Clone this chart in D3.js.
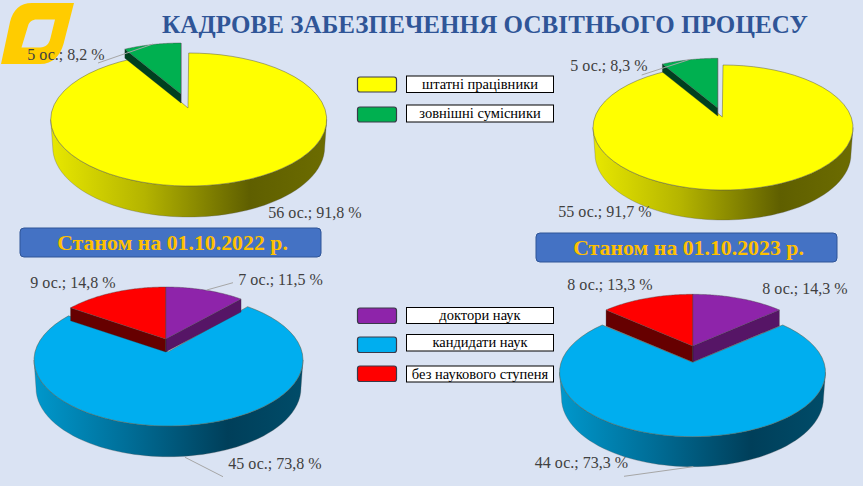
<!DOCTYPE html>
<html lang="uk"><head><meta charset="utf-8">
<script src="https://cdn.jsdelivr.net/npm/d3@7/dist/d3.min.js"></script>
<style>html,body{margin:0;padding:0;background:#DAE3F3;overflow:hidden}svg{display:block}text{font-family:"Liberation Serif",serif}</style>
</head><body><svg id="c" width="863" height="486"></svg>
<script>
// ---- data ----
const titleText = "КАДРОВЕ ЗАБЕЗПЕЧЕННЯ ОСВІТНЬОГО ПРОЦЕСУ";
const staffCategories = ["штатні працівники", "зовнішні сумісники"];
const degreeCategories = ["доктори наук", "кандидати наук", "без наукового ступеня"];
const staff2022 = [56, 5];
const staff2023 = [55, 5];
const degree2022 = [7, 45, 9];
const degree2023 = [8, 44, 8];
const staffLabels2022 = ["56 ос.; 91,8 %", "5 ос.; 8,2 %"];
const staffLabels2023 = ["55 ос.; 91,7 %", "5 ос.; 8,3 %"];
const degreeLabels2022 = ["7 ос.; 11,5 %", "45 ос.; 73,8 %", "9 ос.; 14,8 %"];
const degreeLabels2023 = ["8 ос.; 14,3 %", "44 ос.; 73,3 %", "8 ос.; 13,3 %"];
const banner2022 = "Станом на 01.10.2022 р.";
const banner2023 = "Станом на 01.10.2023 р.";

// ---- style and layout ----
const staffColors = ["#FFFF00", "#00B050"];
const degreeColors = ["#8E24AA", "#00AEEF", "#FF0000"];
const staffEdge = ["#666600", "#00401F"];
const degreeEdge = ["#561566", "#004A66", "#660000"];
const wallStops = {
  "#FFFF00": ["#E8E800", "#B4B400", "#5F5F00", "#6C6C00"],
  "#00AEEF": ["#0098CC", "#006F99", "#003F5A", "#004C69"]
};
const warp = 5.3 * Math.PI / 180; // foreshortening of the tilted pie

const charts = [
  { values: staff2022, colors: staffColors, edges: staffEdge, main: 0,
    top: {cx:188.7, cy:119.5, rx:138, ry:66.5, ax:188, ay:108},
    bottom: {cx:188.7, cy:147, rx:136, ry:70},
    loose: {cx:181, cy:109, rx:133, ry:66, ax:181, ay:94, depth:9},
    labels: staffLabels2022,
    labelPos: [[315,218],[66,60]],
    leaders: [[[98,63],[153,44]]] },
  { values: staff2023, colors: staffColors, edges: staffEdge, main: 0,
    top: {cx:723, cy:127.5, rx:130, ry:62.5, ax:722.3, ay:117},
    bottom: {cx:723, cy:154, rx:128, ry:66},
    loose: {cx:717.7, cy:118.3, rx:129, ry:60, ax:717.7, ay:108, depth:8},
    labels: staffLabels2023,
    labelPos: [[605,216.7],[609,71]],
    leaders: [[[641.7,75],[690,59.3]]] },
  { values: degree2022, colors: degreeColors, edges: degreeEdge, main: 1,
    top: {cx:168.5, cy:360, rx:134.5, ry:66, ax:168.3, ay:351.7},
    bottom: {cx:168.5, cy:388, rx:132.5, ry:68.7},
    loose: {cx:165.7, cy:350, rx:128, ry:63, ax:165.7, ay:339, depth:13},
    labels: degreeLabels2022,
    labelPos: [[280.5,285],[275,469.3],[73,287.7]],
    leaders: [[[233,282.7],[206.7,290]],[[223,476.7],[185,457.3]]] },
  { values: degree2023, colors: degreeColors, edges: degreeEdge, main: 1,
    top: {cx:692.5, cy:372.3, rx:133, ry:64.4, ax:692.7, ay:362.3},
    bottom: {cx:692.5, cy:398, rx:131, ry:68.7},
    loose: {cx:692.7, cy:353.3, rx:127.7, ry:59, ax:692.7, ay:346, depth:16},
    labels: degreeLabels2023,
    labelPos: [[805,294],[581.5,468],[610,290]],
    leaders: [[[624,476.3],[693.3,466.7]]] }
];
const banners = [
  {text: banner2022, x:20, y:228, w:301, h:29},
  {text: banner2023, x:536, y:233, w:301, h:29}
];
const legends = [
  {names: staffCategories, colors: staffColors, swatch:[[77,15],[107,15]], box:[[76,16.5],[105,17]]},
  {names: degreeCategories, colors: degreeColors, swatch:[[308,15.5],[337,15.5],[366,15.5]], box:[[307.5,16],[334.5,16.5],[366,16]]}
];

// ---- drawing ----
const svg = d3.select("#c");
const defs = svg.append("defs");
svg.append("rect").attr("width",863).attr("height",486).attr("fill","#DAE3F3");

// logo
const logoPath = d3.path();
logoPath.moveTo(1,64); logoPath.lineTo(10,22);
logoPath.bezierCurveTo(13,10,20,3,32,3);
logoPath.lineTo(74,3); logoPath.lineTo(63.5,44);
logoPath.bezierCurveTo(60,56,53,64,40,64);
logoPath.closePath();
logoPath.moveTo(21.5,47.5); logoPath.lineTo(40,47.5);
logoPath.bezierCurveTo(46,47.5,49,44,50.5,38);
logoPath.lineTo(55,19.5); logoPath.lineTo(37,19.5);
logoPath.bezierCurveTo(32,19.5,29,22,28,26);
logoPath.closePath();
svg.append("path").attr("d",logoPath.toString()).attr("fill","#FFCC00").attr("fill-rule","evenodd");

// title
svg.append("text").attr("x",485).attr("y",33).attr("text-anchor","middle")
  .attr("font-size",25).attr("font-weight","bold").attr("fill","#2F5597")
  .attr("letter-spacing",0.08).text(titleText);

const pieGen = d3.pie().sort(null).startAngle(0).endAngle(2*Math.PI);
const warped = a => a - warp*Math.sin(2*a);
const pt = (e,a) => [e.cx + e.rx*Math.sin(warped(a)), e.cy - e.ry*Math.cos(warped(a))];
const samples = (a0,a1) => d3.range(0,61).map(i => a0+(a1-a0)*i/60);
const poly = d3.line();

charts.forEach((ch,ci) => {
  const arcs = pieGen(ch.values);
  const g = svg.append("g");
  const mainArc = arcs[ch.main];
  const base = ch.colors[ch.main];

  // main slice side wall with gradient
  const gid = "wall"+ci;
  const grad = defs.append("linearGradient").attr("id",gid);
  grad.selectAll("stop").data(wallStops[base]).join("stop")
    .attr("offset",(d,i)=>[0,0.34,0.72,1][i]).attr("stop-color",d=>d);
  const front = samples(Math.PI/2, 3*Math.PI/2);
  const wallPts = front.map(a=>pt(ch.bottom,a)).reverse().concat(front.map(a=>pt(ch.top,a)));
  g.append("path").attr("d",poly(wallPts)+"Z").attr("fill",`url(#${gid})`)
    .attr("stroke","#555").attr("stroke-width",0.3);

  // main slice top surface
  const surf = [[ch.top.ax,ch.top.ay]].concat(samples(mainArc.startAngle,mainArc.endAngle).map(a=>pt(ch.top,a)));
  g.append("path").attr("d",poly(surf)+"Z").attr("fill",base)
    .attr("stroke","#5A5A40").attr("stroke-width",0.5);

  // loose slices: inner walls then top surfaces
  const loose = arcs.filter(d=>d.index!==ch.main);
  const e = ch.loose;
  loose.forEach(d=>{
    [d.startAngle,d.endAngle].forEach(a=>{
      const c = pt(e,a);
      const q = [[e.ax,e.ay],c,[c[0],c[1]+e.depth],[e.ax,e.ay+e.depth]];
      g.append("path").attr("d",poly(q)+"Z").attr("fill",ch.edges[d.index])
        .attr("stroke","#333").attr("stroke-width",0.3);
    });
  });
  g.selectAll("path.top").data(loose).join("path").attr("class","top")
    .attr("d",d=>poly([[e.ax,e.ay]].concat(samples(d.startAngle,d.endAngle).map(a=>pt(e,a))))+"Z")
    .attr("fill",d=>ch.colors[d.index])
    .attr("stroke","#444").attr("stroke-width",0.4);

  // leader lines
  g.selectAll("line").data(ch.leaders).join("line")
    .attr("x1",d=>d[0][0]).attr("y1",d=>d[0][1]).attr("x2",d=>d[1][0]).attr("y2",d=>d[1][1])
    .attr("stroke","#A6A6A6").attr("stroke-width",1);

  // data labels
  g.selectAll("text").data(ch.labels).join("text")
    .attr("x",(d,i)=>ch.labelPos[i][0]).attr("y",(d,i)=>ch.labelPos[i][1])
    .attr("text-anchor","middle").attr("font-size",16).attr("fill","#404040").text(d=>d);
});

// banners
banners.forEach(b=>{
  svg.append("rect").attr("x",b.x).attr("y",b.y).attr("width",b.w).attr("height",b.h).attr("rx",4)
    .attr("fill","#4472C4").attr("stroke","#2F5597").attr("stroke-width",1);
  svg.append("text").attr("x",b.x+b.w/2 + 2).attr("y",b.y+b.h/2+7).attr("text-anchor","middle")
    .attr("font-size",21.8).attr("font-weight","bold").attr("fill","#FFC000").text(b.text);
});

// legends
legends.forEach(l=>{
  l.names.forEach((name,i)=>{
    svg.append("rect").attr("x",357.5).attr("y",l.swatch[i][0]).attr("width",39).attr("height",l.swatch[i][1]).attr("rx",2.5)
      .attr("fill",l.colors[i]).attr("stroke","#3A3A4A").attr("stroke-width",1.2);
    svg.append("rect").attr("x",406.5).attr("y",l.box[i][0]).attr("width",147).attr("height",l.box[i][1])
      .attr("fill","#fff").attr("stroke","#000").attr("stroke-width",1);
    svg.append("text").attr("x",480).attr("y",l.box[i][0]+l.box[i][1]/2+4.5).attr("text-anchor","middle")
      .attr("font-size",14.5).attr("fill","#000").text(name);
  });
});
</script></body></html>
